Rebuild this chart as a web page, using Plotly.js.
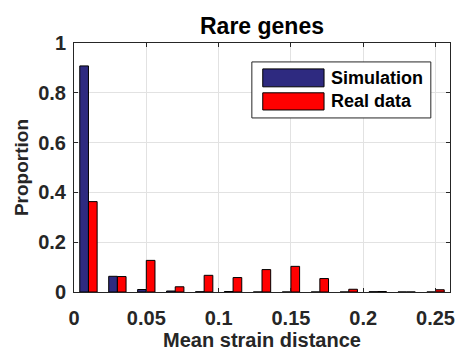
<!DOCTYPE html>
<html>
<head>
<meta charset="utf-8">
<script src="https://cdn.plot.ly/plotly-3.0.1.min.js"></script>
<style>
  html, body { margin: 0; padding: 0; background: #fff; }
  #chart { width: 457px; height: 351px; }
</style>
</head>
<body>
<div id="chart"></div>
<script>
// Histogram bin centres (mean strain distance)
const binCenters = [0.01, 0.03, 0.05, 0.07, 0.09, 0.11, 0.13, 0.15, 0.17, 0.19, 0.21, 0.23, 0.25];

// Proportion of rare genes per bin
const simulation = [0.908, 0.063, 0.010, 0.004, 0.001, 0.002, 0.000, 0.000, 0.000, 0.000, 0.001, 0.000, 0.000];
const realData   = [0.363, 0.062, 0.127, 0.021, 0.067, 0.058, 0.090, 0.103, 0.054, 0.011, 0.002, 0.000, 0.009];

const seriesNames = ["Simulation", "Real data"];
const seriesColors = ["#2e2a80", "#ff0000"];

const xTicks = [0, 0.05, 0.1, 0.15, 0.2, 0.25];
const xTickLabels = ["0", "0.05", "0.1", "0.15", "0.2", "0.25"];
const yTicks = [0, 0.2, 0.4, 0.6, 0.8, 1];
const yTickLabels = ["0", "0.2", "0.4", "0.6", "0.8", "1"];

const FONT = "Liberation Sans, Arial, Helvetica, sans-serif";
const INK = "#262626";

const traces = [simulation, realData].map((vals, i) => ({
  type: "bar",
  x: binCenters,
  y: vals,
  name: seriesNames[i],
  marker: { color: seriesColors[i], line: { color: "#000000", width: 1 } },
  hoverinfo: "x+y+name"
}));

// Boxed legend with wide swatches, placed in the upper right of the axes
const lg = { x0: 0.473, x1: 0.949, y0: 0.699, y1: 0.924 };
const sw = [
  { y0: 0.824, y1: 0.896 },
  { y0: 0.731, y1: 0.800 }
];
const shapes = [
  { type: "rect", xref: "paper", yref: "paper", x0: lg.x0, x1: lg.x1, y0: lg.y0, y1: lg.y1,
    line: { color: INK, width: 1 }, fillcolor: "#ffffff", layer: "above" }
].concat(sw.map((s, i) => ({
  type: "rect", xref: "paper", yref: "paper", x0: 0.502, x1: 0.665, y0: s.y0, y1: s.y1,
  line: { color: "#000000", width: 1 }, fillcolor: seriesColors[i], layer: "above"
})));
const annotations = sw.map((s, i) => ({
  xref: "paper", yref: "paper", x: 0.679, y: (s.y0 + s.y1) / 2,
  xanchor: "left", yanchor: "middle", showarrow: false,
  text: "<b>" + seriesNames[i] + "</b>",
  font: { family: FONT, size: 18, color: "#000000" }
}));

const axisCommon = {
  showline: true, mirror: "ticks", linecolor: INK, linewidth: 1,
  ticks: "inside", ticklen: 4, tickcolor: INK,
  showgrid: true, gridcolor: "#e2e2e2", gridwidth: 1,
  zeroline: false, tickmode: "array",
  tickfont: { family: FONT, size: 20, color: INK, weight: "bold" }
};

const layout = {
  width: 457, height: 351,
  margin: { l: 74, r: 7, t: 43, b: 58.5, pad: 0 },
  paper_bgcolor: "#ffffff", plot_bgcolor: "#ffffff",
  showlegend: false,
  barmode: "group", bargap: 0.4, bargroupgap: 0,
  title: {
    text: "<b>Rare genes</b>",
    font: { family: FONT, size: 23, color: "#000000" },
    x: 0.5733, xanchor: "center", y: 0.925, yanchor: "middle"
  },
  xaxis: Object.assign({}, axisCommon, {
    range: [0, 0.26],
    tickvals: xTicks, ticktext: xTickLabels,
    ticklabelstandoff: 8,
    title: { text: "<b>Mean strain distance</b>", standoff: 4,
      font: { family: FONT, size: 20, color: INK } }
  }),
  yaxis: Object.assign({}, axisCommon, {
    range: [0, 1],
    tickvals: yTicks, ticktext: yTickLabels,
    ticklabelstandoff: 3,
    title: { text: "<b>Proportion</b>", standoff: 4,
      font: { family: FONT, size: 19, color: INK } }
  }),
  shapes: shapes,
  annotations: annotations
};

Plotly.newPlot("chart", traces, layout, { displayModeBar: false, staticPlot: true });
</script>
</body>
</html>
